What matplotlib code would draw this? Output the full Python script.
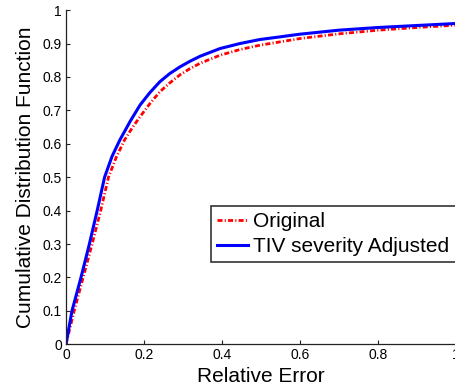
import matplotlib
matplotlib.use('Agg')
import matplotlib.pyplot as plt

# curve points
err_adj = [0, 0.0154, 0.0385, 0.060, 0.080, 0.099, 0.118, 0.138, 0.165, 0.190, 0.215,
           0.241, 0.266, 0.292, 0.318, 0.344, 0.395, 0.446, 0.497, 0.549, 0.6,
           0.7, 0.8, 0.9, 1.0]
cdf_adj = [0, 0.10, 0.20, 0.30, 0.40, 0.50, 0.562, 0.611, 0.668, 0.716, 0.753,
           0.786, 0.810, 0.830, 0.847, 0.862, 0.885, 0.900, 0.912, 0.920, 0.928,
           0.940, 0.948, 0.954, 0.960]

err_orig = [0, 0.021, 0.044, 0.067, 0.089, 0.109, 0.129, 0.150, 0.170, 0.190, 0.215,
            0.241, 0.266, 0.292, 0.318, 0.344, 0.395, 0.446, 0.497, 0.549, 0.6,
            0.7, 0.8, 0.9, 1.0]
cdf_orig = [0, 0.10, 0.20, 0.30, 0.40, 0.50, 0.560, 0.611, 0.648, 0.681, 0.720,
            0.756, 0.782, 0.806, 0.825, 0.841, 0.865, 0.882, 0.895, 0.905, 0.915,
            0.929, 0.940, 0.948, 0.955]

x_ticks = [0, 0.2, 0.4, 0.6, 0.8, 1]
y_ticks = [0, 0.1, 0.2, 0.3, 0.4, 0.5, 0.6, 0.7, 0.8, 0.9, 1]
x_ticklabels = ['0', '0.2', '0.4', '0.6', '0.8', '1']
y_ticklabels = ['0', '0.1', '0.2', '0.3', '0.4', '0.5', '0.6', '0.7', '0.8', '0.9', '1']

plt.rcParams['font.family'] = ['Liberation Sans', 'DejaVu Sans']

fig = plt.figure(figsize=(4.55, 3.85), dpi=100)
ax = fig.add_axes([0.145, 0.1057, 0.857, 0.868])

ax.plot(err_orig, cdf_orig, color='red', lw=2.0, linestyle=(0, (1.8, 0.8, 0.4, 0.8)),
        label='Original')
ax.plot(err_adj, cdf_adj, color='blue', lw=2.2, label='TIV severity Adjusted')

ax.set_xlim(0, 1)
ax.set_ylim(0, 1)
ax.set_xticks(x_ticks)
ax.set_xticklabels(x_ticklabels)
ax.set_yticks(y_ticks)
ax.set_yticklabels(y_ticklabels)
ax.tick_params(direction='in', length=3, width=0.8, labelsize=10, pad=3, colors='#222222')
ax.tick_params(labelcolor='black')
for side in ['top', 'right']:
    ax.spines[side].set_visible(False)
for side in ['left', 'bottom']:
    ax.spines[side].set_linewidth(0.9)
    ax.spines[side].set_color('#222222')

ax.set_xlabel('Relative Error', fontsize=15, labelpad=3)
ax.set_ylabel('Cumulative Distribution Function', fontsize=15, labelpad=5)

# legend box runs past the right edge of the picture, as in the original
leg = ax.legend(loc='upper left', bbox_to_anchor=(210.7 / 455, 1 - 205.7 / 385, 0.6, 0),
                bbox_transform=fig.transFigure, mode='expand', fontsize=15, frameon=True,
                fancybox=False, handlelength=1.5, handletextpad=0.25, borderpad=0.3,
                labelspacing=0.3, borderaxespad=0)
leg.get_frame().set_edgecolor('black')
leg.get_frame().set_linewidth(1.2)

fig.savefig('out.png', dpi=100)
